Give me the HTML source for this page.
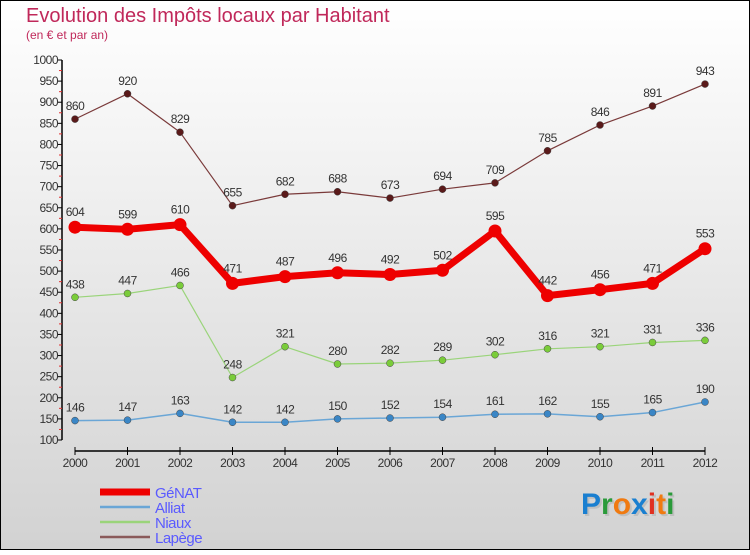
<!DOCTYPE html>
<html><head><meta charset="utf-8"><style>
html,body{margin:0;padding:0}
body{width:750px;height:550px;overflow:hidden;font-family:"Liberation Sans",sans-serif}
</style></head><body>
<svg id="chart" width="750" height="550" xmlns="http://www.w3.org/2000/svg">
<defs><linearGradient id="bg" x1="0" y1="0" x2="0" y2="1"><stop offset="0" stop-color="#ffffff"/><stop offset="1" stop-color="#d2d2d2"/></linearGradient></defs>
<rect x="0.5" y="0.5" width="749" height="549" fill="url(#bg)" stroke="#000" stroke-width="1"/>
<text x="26" y="22" font-size="20" fill="#c0285a">Evolution des Impôts locaux par Habitant</text>
<text x="26" y="39" font-size="12" fill="#c0285a">(en € et par an)</text>
<g id="axes"></g>
<g id="series"></g>
<g id="legend"></g>
<g font-size="30" font-weight="bold" font-family="'Liberation Sans',sans-serif">
<text x="583" y="516" fill="#aaa" opacity="0.5">Proxiti</text>
<text x="581" y="514"><tspan fill="#1a7fd0">P</tspan><tspan fill="#2a9a3a">r</tspan><tspan fill="#f07a10">o</tspan><tspan fill="#1a7fd0">x</tspan><tspan fill="#e03020">i</tspan><tspan fill="#f07a10">t</tspan><tspan fill="#2a9a3a">i</tspan></text>
</g>
</svg>
<script>
const years = [2000,2001,2002,2003,2004,2005,2006,2007,2008,2009,2010,2011,2012];
const genat = [604,599,610,471,487,496,492,502,595,442,456,471,553];
const alliat = [146,147,163,142,142,150,152,154,161,162,155,165,190];
const niaux = [438,447,466,248,321,280,282,289,302,316,321,331,336];
const lapege = [860,920,829,655,682,688,673,694,709,785,846,891,943];
const yTicks = [100,150,200,250,300,350,400,450,500,550,600,650,700,750,800,850,900,950,1000];
const NS="http://www.w3.org/2000/svg";
const x = i => 75 + i*52.5;
const y = v => 440 - (v-100)*380/900;
function mk(tag, attrs, parent){const e=document.createElementNS(NS,tag);for(const k in attrs)e.setAttribute(k,attrs[k]);parent.appendChild(e);return e;}
const axes=document.getElementById('axes');
const yAxis=mk('line',{x1:62,y1:y(1000),x2:62,y2:y(100),stroke:'#000','stroke-width':1.5},axes);


yTicks.forEach(v=>{
  mk('line',{x1:58,x2:62,y1:y(v),y2:y(v),stroke:'#000'},axes);
  const t=mk('text',{x:58,y:y(v)+4,'text-anchor':'end','font-size':12,fill:'#333','letter-spacing':'-0.5'},axes);
  t.textContent=v;
  
  
  if(v<1000) mk('line',{x1:59,x2:62,y1:y(v+25),y2:y(v+25),stroke:'#e03030'},axes);
});
const xAxis=mk('line',{x1:75,y1:451,x2:705,y2:451,stroke:'#000','stroke-width':1.5},axes);


years.forEach((yr,i)=>{
  mk('line',{x1:x(i),x2:x(i),y1:447,y2:455,stroke:'#000'},axes);
  const t=mk('text',{x:x(i),y:467,'text-anchor':'middle','font-size':12,fill:'#333','letter-spacing':'-0.5'},axes);
  t.textContent=yr;
  
  
});
const seriesG=document.getElementById('series');
const defs=[
 {name:'lapege',data:lapege,color:'#7a3a3a',dot:'#5a1a1a',w:1.2,r:3.5},
 {name:'niaux',data:niaux,color:'#9ad47a',dot:'#7acc3a',w:1.2,r:3.5},
 {name:'alliat',data:alliat,color:'#6aa6d6',dot:'#3a86c6',w:1.5,r:3.5},
 {name:'genat',data:genat,color:'#ee0000',dot:'#ee0000',w:7,r:6.5}
];
defs.forEach(s=>{
  const g=mk('g',{},seriesG);
  
  
  const pl=mk('polyline',{points:s.data.map((v,i)=>x(i)+','+y(v)).join(' '),fill:'none',stroke:s.color,'stroke-width':s.w,'stroke-linejoin':'round'},g);
  
  
  s.data.forEach((v,i)=>{
    const c=mk('circle',{cx:x(i),cy:y(v),r:s.r,fill:s.dot,stroke:s.name==='genat'?'none':'#444','stroke-width':0.5},g);
    
    
    const t=mk('text',{x:x(i),y:y(v)-(s.name==='genat'?11:9),'text-anchor':'middle','font-size':12,fill:'#333','letter-spacing':'-0.5'},g);
    t.textContent=v;
    
    
  });
});
const legend=document.getElementById('legend');
const leg=[['GéNAT','#ee0000',7],['Alliat','#6aa6d6',2.5],['Niaux','#9ad47a',2.5],['Lapège','#8a5a5a',2.5]];
leg.forEach((l,i)=>{
  const yy=492+i*15;
  const ln=mk('line',{x1:100,x2:150,y1:yy,y2:yy,stroke:l[1],'stroke-width':l[2]},legend);
  
  
  const t=mk('text',{x:155,y:yy+6,'font-size':15,fill:'#5a5aff','letter-spacing':'-0.5'},legend);
  t.textContent=l[0];
  
  
});
</script>
</body></html>
